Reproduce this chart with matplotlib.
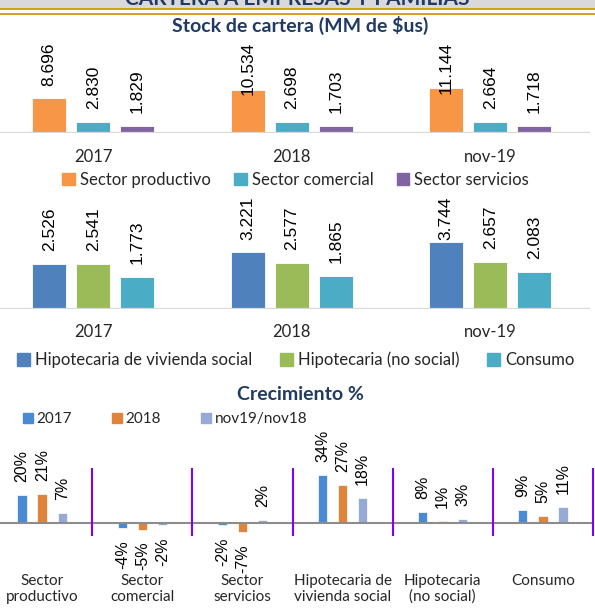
import numpy as np
import matplotlib
matplotlib.use('Agg')
import matplotlib.pyplot as plt
from matplotlib.patches import Rectangle, Patch

# data
years = ['2017', '2018', 'nov-19']
sector_productivo = [8696, 10534, 11144]
sector_comercial = [2830, 2698, 2664]
sector_servicios = [1829, 1703, 1718]

hip_social = [2526, 3221, 3744]
hip_no_social = [2541, 2577, 2657]
consumo = [1773, 1865, 2083]

cats_growth = ['Sector\nproductivo', 'Sector\ncomercial', 'Sector\nservicios',
               'Hipotecaria de\nvivienda social', 'Hipotecaria\n(no social)', 'Consumo']
growth_2017 = [20, -4, -2, 34, 8, 9]
growth_2018 = [21, -5, -7, 27, 1, 5]
growth_nov19 = [7, -2, 2, 18, 3, 11]

W, H = 595, 610
navy = '#1F3A64'
txt = '#262626'
plt.rcParams['font.family'] = ['Lato', 'DejaVu Sans']

fig = plt.figure(figsize=(W / 100, H / 100), dpi=100)


def px_rect(left, top, width, height):
    # figure rect from pixel coords measured from top-left
    return [left / W, 1 - (top + height) / H, width / W, height / H]


# header band (title text is cut by the top edge, as in the original)
fig.add_artist(Rectangle((0, 1 - 8 / H), 1, 8 / H, transform=fig.transFigure, color='#D9D9D9', lw=0))
fig.add_artist(Rectangle((0, 1 - 10 / H), 1, 2 / H, transform=fig.transFigure, color='#D4A20A', lw=0))
fig.add_artist(Rectangle((0, 1 - 15 / H), 1, 2.2 / H, transform=fig.transFigure, color='#D4A20A', lw=0))
fig.text(0.5, 1 - 5 / H, 'CARTERA A EMPRESAS Y FAMILIAS', ha='center', va='baseline',
         fontsize=15, fontweight='bold', color=navy)

fig.text(0.505, 1 - 25 / H, 'Stock de cartera (MM de $us)', ha='center', va='center',
         fontsize=14, fontweight='bold', color=navy)
fig.text(0.505, 1 - 395 / H, 'Crecimiento %', ha='center', va='center',
         fontsize=14, fontweight='bold', color=navy)

labels = []


def fmt_thousands(v):
    return f'{v:,}'.replace(',', '.')


def stock_chart(rect, top_val, series, colors, names, legend_y, colspace):
    ax = fig.add_axes(rect)
    x = np.arange(len(years))
    off = 0.2217
    for i, (vals, c) in enumerate(zip(series, colors)):
        xs = x + (i - 1) * off
        ax.bar(xs, vals, width=0.171, color=c, edgecolor='white', linewidth=0.6)
        for xi, v in zip(xs, vals):
            t = ax.annotate(fmt_thousands(v), (xi, v), xytext=(0, 13), textcoords='offset pixels',
                            rotation=90, ha='center', va='bottom', fontsize=12.5,
                            family='Liberation Sans', color='black')
            labels.append((t, ax))
    ax.set_xlim(-0.5, 2.5)
    ax.set_ylim(0, top_val)
    ax.axhline(0, color='#D9D9D9', lw=1.6)
    ax.set_xticks(x)
    ax.set_xticklabels(years, fontsize=12, color=txt)
    ax.tick_params(axis='x', length=0, pad=11)
    ax.set_yticks([])
    for s in ax.spines.values():
        s.set_visible(False)
    handles = [Patch(color=c) for c in colors]
    fig.legend(handles, names, loc='center', bbox_to_anchor=(0.497, 1 - legend_y / H), ncol=3,
               frameon=False, fontsize=12, handlelength=0.75, handleheight=0.75,
               handletextpad=0.3, columnspacing=colspace, labelcolor=txt)
    return ax


# chart 1: sectors
stock_chart(px_rect(-6, 42, 595.5, 91.3), 91.3 / 4.1 * 1000,
            [sector_productivo, sector_comercial, sector_servicios],
            ['#F79646', '#4BACC6', '#8064A2'],
            ['Sector productivo', 'Sector comercial', 'Sector servicios'], 180, 1.4)

# chart 2: households
stock_chart(px_rect(-6, 196.7, 595.5, 112.3), 112.3 / 17.8 * 1000,
            [hip_social, hip_no_social, consumo],
            ['#4F81BD', '#9BBB59', '#4BACC6'],
            ['Hipotecaria de vivienda social', 'Hipotecaria (no social)', 'Consumo'], 360, 1.7)

# chart 3: growth
ax3 = fig.add_axes(px_rect(-7.8, 440, 600.6, 130))
x3 = np.arange(len(cats_growth))
cols3 = ['#4A8AD4', '#E0843B', '#95AAD4']
for i, (vals, c) in enumerate(zip([growth_2017, growth_2018, growth_nov19], cols3)):
    xs = x3 + (i - 1) * 0.2
    ax3.bar(xs, vals, width=0.095, color=c, edgecolor='white', linewidth=0.5)
    for xi, v in zip(xs, vals):
        if v >= 0:
            ax3.annotate(f'{v}%', (xi, v), xytext=(0, 13), textcoords='offset pixels',
                         rotation=90, ha='center', va='bottom', fontsize=11.5,
                         family='Liberation Sans', color='black')
        else:
            ax3.annotate(f'{v}%', (xi, v), xytext=(0, -12), textcoords='offset pixels',
                         rotation=90, ha='center', va='top', fontsize=11.5,
                         family='Liberation Sans', color='black')
ax3.set_xlim(-0.5, 5.5)
ax3.set_ylim((522.7 - 570) / 1.39, (522.7 - 440) / 1.39)
ax3.axhline(0, color='#8C8C8C', lw=1.5)
ax3.vlines(x3 + 0.5, -9.5, 39.3, color='#8000FF', lw=1.5, clip_on=False)
ax3.set_xticks(x3)
ax3.set_xticklabels(cats_growth, fontsize=11, color=txt, linespacing=1.15)
ax3.tick_params(axis='x', length=0, pad=3)
ax3.set_yticks([])
for s in ax3.spines.values():
    s.set_visible(False)
fig.legend([Patch(color=c) for c in cols3], ['2017', '2018', 'nov19/nov18'], loc='center',
           bbox_to_anchor=(165 / W, 1 - 419 / H), ncol=3, frameon=False, fontsize=11,
           handlelength=0.65, handleheight=0.65, handletextpad=0.25, columnspacing=2.6,
           labelcolor=txt)

# keep value labels inside the plot area (they get pushed down like in the original)
fig.canvas.draw()
r = fig.canvas.get_renderer()
for t, ax in labels:
    bb = t.get_window_extent(r)
    top = ax.get_window_extent(r).y1
    if bb.y1 > top:
        dx, dy = t.xyann
        t.xyann = (dx, dy - (bb.y1 - top))

fig.savefig('out.png', dpi=100)
